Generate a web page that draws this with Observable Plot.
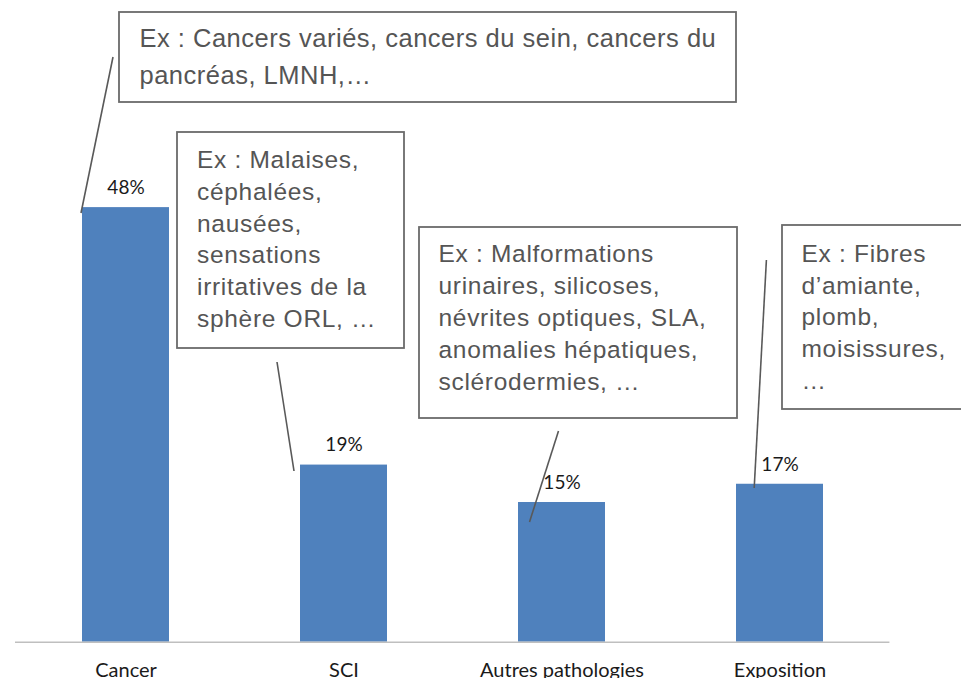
<!DOCTYPE html>
<html>
<head>
<meta charset="utf-8">
<script src="https://cdn.jsdelivr.net/npm/d3@7"></script>
<script src="https://cdn.jsdelivr.net/npm/@observablehq/plot@0.6"></script>
<style>
  html, body { margin: 0; padding: 0; background: #fff; }
  #wrap { position: relative; width: 961px; height: 678px; overflow: hidden; }
  #wrap > svg { position: absolute; left: 0; top: 0; }
</style>
</head>
<body>
<div id="wrap"></div>
<script>
// ---- data ----
const categories = ["Cancer", "SCI", "Autres pathologies", "Exposition"];
const shares = [47.6, 19.4, 15.3, 17.3]; // percent
const noteLines = [
  ["Ex : Cancers variés, cancers du sein, cancers du", "pancréas, LMNH,…"],
  ["Ex : Malaises,", "céphalées,", "nausées,", "sensations", "irritatives de la", "sphère ORL, …"],
  ["Ex : Malformations", "urinaires, silicoses,", "névrites optiques, SLA,", "anomalies hépatiques,", "sclérodermies, …"],
  ["Ex : Fibres", "d’amiante,", "plomb,", "moisissures,", "…"]
];

const rows = categories.map((c, i) => ({category: c, value: shares[i]}));

const W = 961, H = 678;

const chart = Plot.plot({
  width: W,
  height: H,
  marginLeft: 15,
  marginRight: 71.6,
  marginTop: 2.6,
  marginBottom: 36.3,
  style: {fontFamily: "Lato, 'Liberation Sans', sans-serif", background: "transparent", overflow: "visible"},
  x: {domain: categories, paddingInner: 0.6, paddingOuter: 0.3, label: null},
  y: {domain: [0, 70], axis: null},
  marks: [
    Plot.barY(rows, {x: "category", y: "value", fill: "#4F81BD"}),
    Plot.ruleY([0], {stroke: "#bfbfbf", strokeWidth: 1.4}),
    Plot.text(rows, {
      x: "category", y: "value",
      text: d => Math.round(d.value) + "%",
      lineAnchor: "bottom", dy: -13.6,
      fontSize: 19, fill: "#1a1a1a",
      fontFamily: "Lato, sans-serif"
    }),
    Plot.axisX({tickSize: 0, tickPadding: 20.5, fontSize: 20, fill: "#1a1a1a", fontFamily: "Lato, sans-serif", label: null})
  ]
});
document.getElementById("wrap").appendChild(chart);

// ---- annotation callouts (layout only) ----
const boxes = [
  {x: 119, y: 12, w: 617, h: 90, tx: 139.5, ty: 47.3, lh: 36.5, fs: 25.5, ls: 0.5},
  {x: 177, y: 132, w: 227, h: 216, tx: 197, ty: 168.3, lh: 31.7, fs: 24.5, ls: 0.7},
  {x: 419, y: 227, w: 318, h: 191, tx: 438.5, ty: 262, lh: 32, fs: 24.5, ls: 0.7},
  {x: 782, y: 225, w: 200, h: 184, tx: 801.5, ty: 261.7, lh: 31.8, fs: 24.5, ls: 0.7}
];
const leaders = [
  [113, 57, 81, 213],
  [277, 362, 294, 471],
  [558.5, 431, 529.5, 522],
  [766.4, 260, 754.2, 488]
];

const svg = d3.select("#wrap").append("svg")
  .attr("width", W).attr("height", H)
  .style("pointer-events", "none");

svg.selectAll("line.leader").data(leaders).join("line")
  .attr("class", "leader")
  .attr("x1", d => d[0]).attr("y1", d => d[1])
  .attr("x2", d => d[2]).attr("y2", d => d[3])
  .attr("stroke", "#595959").attr("stroke-width", 1.6);

const g = svg.selectAll("g.note").data(boxes).join("g").attr("class", "note");
g.append("rect")
  .attr("x", d => d.x).attr("y", d => d.y)
  .attr("width", d => d.w).attr("height", d => d.h)
  .attr("fill", "#fff").attr("stroke", "#6b6b6b").attr("stroke-width", 1.8);
g.each(function(d, i) {
  const t = d3.select(this).append("text")
    .attr("font-family", "'Liberation Sans', Arial, sans-serif")
    .attr("font-size", d.fs)
    .attr("letter-spacing", d.ls)
    .attr("fill", "#555555");
  t.selectAll("tspan").data(noteLines[i]).join("tspan")
    .attr("x", d.tx)
    .attr("y", (s, j) => d.ty + j * d.lh)
    .text(s => s);
});
</script>
</body>
</html>
